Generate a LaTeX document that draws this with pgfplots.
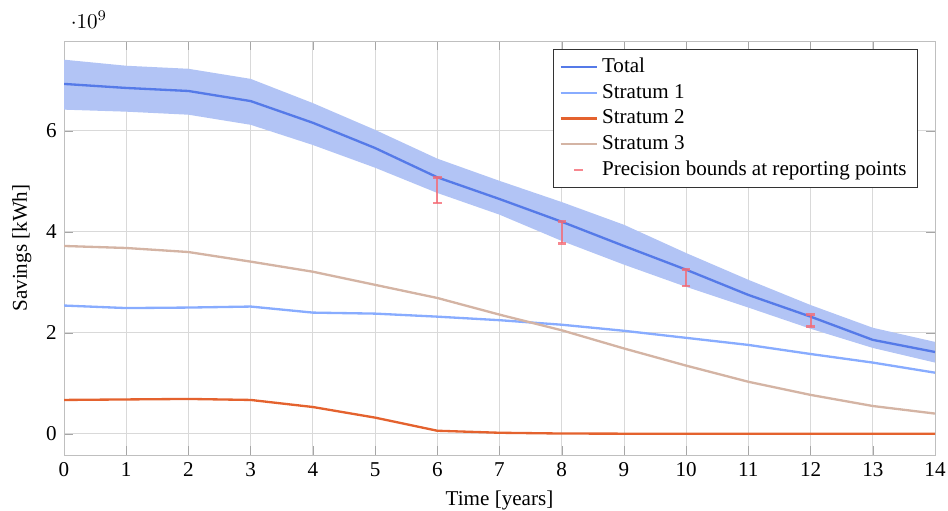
\documentclass[border=0pt]{standalone}
\usepackage{fontspec}
\setmainfont{Liberation Serif}
\usepackage{pgfplots}
\pgfplotsset{compat=1.18}
\usepgfplotslibrary{fillbetween}
\definecolor{totalc}{RGB}{85,122,232}
\definecolor{bandc}{RGB}{178,196,245}
\definecolor{s1c}{RGB}{136,172,255}
\definecolor{s2c}{RGB}{228,98,46}
\definecolor{s3c}{RGB}{212,180,164}
\definecolor{errc}{RGB}{245,105,115}
\begin{document}
\begin{tikzpicture}
\begin{axis}[
  scale only axis,
  width=413pt, height=196.3pt,
  xmin=0, xmax=14, ymin=-0.42e9, ymax=7.78e9,
  xtick={0,1,...,14},
  ytick={0,2e9,4e9,6e9},
  grid=major,
  grid style={gray!30},
  axis line style={gray!50},
  tick style={gray!70},
  /pgf/number format/assume math mode=true,
  xlabel={Time [years]},
  ylabel={Savings [kWh]},
  legend cell align=left,
  legend style={font=\normalsize, draw=black!80, fill=white},
  tick label style={font=\normalsize},
  every axis plot/.append style={line width=1.1pt},
]
\addplot[name path=up, draw=none, forget plot] coordinates {
(0,7.41e9)(1,7.29e9)(2,7.23e9)(3,7.03e9)(4,6.55e9)(5,6.02e9)(6,5.45e9)(7,5.01e9)(8,4.59e9)(9,4.14e9)(10,3.58e9)(11,3.05e9)(12,2.55e9)(13,2.10e9)(14,1.82e9)};
\addplot[name path=lo, draw=none, forget plot] coordinates {
(0,6.42e9)(1,6.38e9)(2,6.32e9)(3,6.12e9)(4,5.72e9)(5,5.27e9)(6,4.77e9)(7,4.34e9)(8,3.82e9)(9,3.35e9)(10,2.91e9)(11,2.50e9)(12,2.08e9)(13,1.70e9)(14,1.41e9)};
\addplot[bandc, draw=none, forget plot] fill between[of=up and lo];
\addplot[totalc] coordinates {
(0,6.93e9)(1,6.85e9)(2,6.79e9)(3,6.59e9)(4,6.16e9)(5,5.66e9)(6,5.08e9)(7,4.65e9)(8,4.20e9)(9,3.72e9)(10,3.25e9)(11,2.75e9)(12,2.32e9)(13,1.86e9)(14,1.62e9)};
\addlegendentry{Total}
\addplot[s1c] coordinates {
(0,2.54e9)(1,2.49e9)(2,2.50e9)(3,2.52e9)(4,2.40e9)(5,2.38e9)(6,2.32e9)(7,2.25e9)(8,2.16e9)(9,2.04e9)(10,1.90e9)(11,1.76e9)(12,1.58e9)(13,1.41e9)(14,1.21e9)};
\addlegendentry{Stratum 1}
\addplot[s2c] coordinates {
(0,0.67e9)(1,0.68e9)(2,0.69e9)(3,0.67e9)(4,0.53e9)(5,0.32e9)(6,0.06e9)(7,0.02e9)(8,0.005e9)(9,0.002e9)(10,0)(11,0)(12,0)(13,0)(14,0)};
\addlegendentry{Stratum 2}
\addplot[s3c] coordinates {
(0,3.72e9)(1,3.68e9)(2,3.60e9)(3,3.41e9)(4,3.21e9)(5,2.95e9)(6,2.69e9)(7,2.36e9)(8,2.05e9)(9,1.69e9)(10,1.35e9)(11,1.03e9)(12,0.77e9)(13,0.55e9)(14,0.40e9)};
\addlegendentry{Stratum 3}
\addplot[errc, opacity=0.8, only marks, mark=-, mark size=2pt, mark options={line width=1.3pt},
  error bars/.cd, y dir=minus, y explicit, error bar style={line width=1pt}, error mark options={rotate=90, mark size=2pt, line width=1.2pt}]
  coordinates {
(6,5.08e9) -= (0,0.51e9)
(8,4.20e9) -= (0,0.43e9)
(10,3.25e9) -= (0,0.32e9)
(12,2.36e9) -= (0,0.24e9)};
\addlegendentry{Precision bounds at reporting points}
\end{axis}
\pgfresetboundingbox
\path ([shift={(-30.35pt,-26.55pt)}]current axis.south west) rectangle ([shift={(6.16pt,19.44pt)}]current axis.north east);
\end{tikzpicture}
\end{document}
